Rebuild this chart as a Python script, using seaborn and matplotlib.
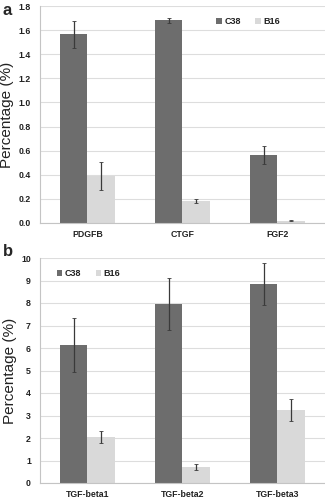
import matplotlib
matplotlib.use("Agg")
import matplotlib.pyplot as plt
import seaborn as sns
import pandas as pd
import numpy as np

# Panel a: growth factors
genes_a = ["PDGFB", "CTGF", "FGF2"]
c38_a = [1.565, 1.68, 0.565]
c38_a_err = [0.11, 0.02, 0.075]
b16_a = [0.39, 0.18, 0.02]
b16_a_err = [0.12, 0.015, 0.005]

# Panel b: TGF-beta isoforms
genes_b = ["TGF-beta1", "TGF-beta2", "TGF-beta3"]
c38_b = [6.15, 7.95, 8.85]
c38_b_err = [1.2, 1.15, 0.95]
b16_b = [2.05, 0.73, 3.25]
b16_b_err = [0.27, 0.13, 0.5]

yticks_a = [0.0, 0.2, 0.4, 0.6, 0.8, 1.0, 1.2, 1.4, 1.6, 1.8]
yticks_b = list(range(0, 11))

series = ["C38", "B16"]
palette = {"C38": "#6d6d6d", "B16": "#d9d9d9"}

sns.set_style("white")
plt.rcParams["font.family"] = ["Liberation Sans", "DejaVu Sans"]

fig = plt.figure(figsize=(3.25, 5.0), dpi=100)
ax_a = fig.add_axes([0.123, 0.554, 0.877, 0.434])
ax_b = fig.add_axes([0.123, 0.034, 0.877, 0.450])


def draw_panel(ax, genes, c38, c38_err, b16, b16_err, yticks, fmt, legend_anchor):
    df = pd.DataFrame({
        "gene": genes * 2,
        "series": ["C38"] * len(genes) + ["B16"] * len(genes),
        "value": list(c38) + list(b16),
    })
    errs = list(c38_err) + list(b16_err)
    sns.barplot(data=df, x="gene", y="value", hue="series", hue_order=series,
                palette=palette, width=0.58, ax=ax, errorbar=None,
                edgecolor="none", linewidth=0, zorder=2)
    # error bars at the centres of the drawn bars
    patches = [p for p in ax.patches if p.get_height() > 0]
    for p, v, e in zip(patches, df["value"], errs):
        x = p.get_x() + p.get_width() / 2
        ax.errorbar(x, v, yerr=e, fmt="none", ecolor="#3a3a3a",
                    elinewidth=0.9, capsize=1.2, capthick=0.6, zorder=3)

    ax.set_xlim(-0.5, len(genes) - 0.5)
    ax.set_ylim(yticks[0], yticks[-1])
    ax.set_yticks(yticks)
    ax.set_yticklabels([fmt.format(t) for t in yticks], fontsize=6.3,
                       fontweight="bold", color="#222222")
    ax.set_xticks(range(len(genes)))
    ax.set_xticklabels(genes, fontsize=6.3, fontweight="bold", color="#222222")
    ax.set_xticks(np.arange(-0.5, len(genes)), minor=True)
    ax.tick_params(axis="x", which="major", length=0, pad=5)
    ax.tick_params(axis="x", which="minor", length=3, color="#bbbbbb", width=0.8)
    ax.tick_params(axis="y", length=4.5, color="#cccccc", width=0.8, pad=2)
    ax.yaxis.grid(True, color="#dddddd", linewidth=0.8, zorder=0)
    ax.set_axisbelow(True)
    for side in ("top", "right"):
        ax.spines[side].set_visible(False)
    for side in ("left", "bottom"):
        ax.spines[side].set_color("#c4c4c4")
        ax.spines[side].set_linewidth(0.8)
    ax.set_xlabel("")
    ax.set_ylabel("Percentage (%)", fontsize=11, color="#222222", labelpad=3)

    handles, labels = ax.get_legend_handles_labels()
    leg = ax.legend(handles, labels, loc="upper left", bbox_to_anchor=legend_anchor,
                    ncol=2, frameon=False, handlelength=0.6,
                    handleheight=0.6, handletextpad=0.3, columnspacing=1.6,
                    prop={"weight": "bold", "size": 6.5})
    for t in leg.get_texts():
        t.set_color("#222222")


draw_panel(ax_a, genes_a, c38_a, c38_a_err, b16_a, b16_a_err, yticks_a,
           "{:.1f}", (0.59, 0.985))
draw_panel(ax_b, genes_b, c38_b, c38_b_err, b16_b, b16_b_err, yticks_b,
           "{:d}", (0.03, 0.985))

fig.text(0.008, 0.994, "a", fontsize=12, fontweight="bold", va="top", ha="left")
fig.text(0.008, 0.512, "b", fontsize=12, fontweight="bold", va="top", ha="left")

fig.savefig("out.png", dpi=100)
